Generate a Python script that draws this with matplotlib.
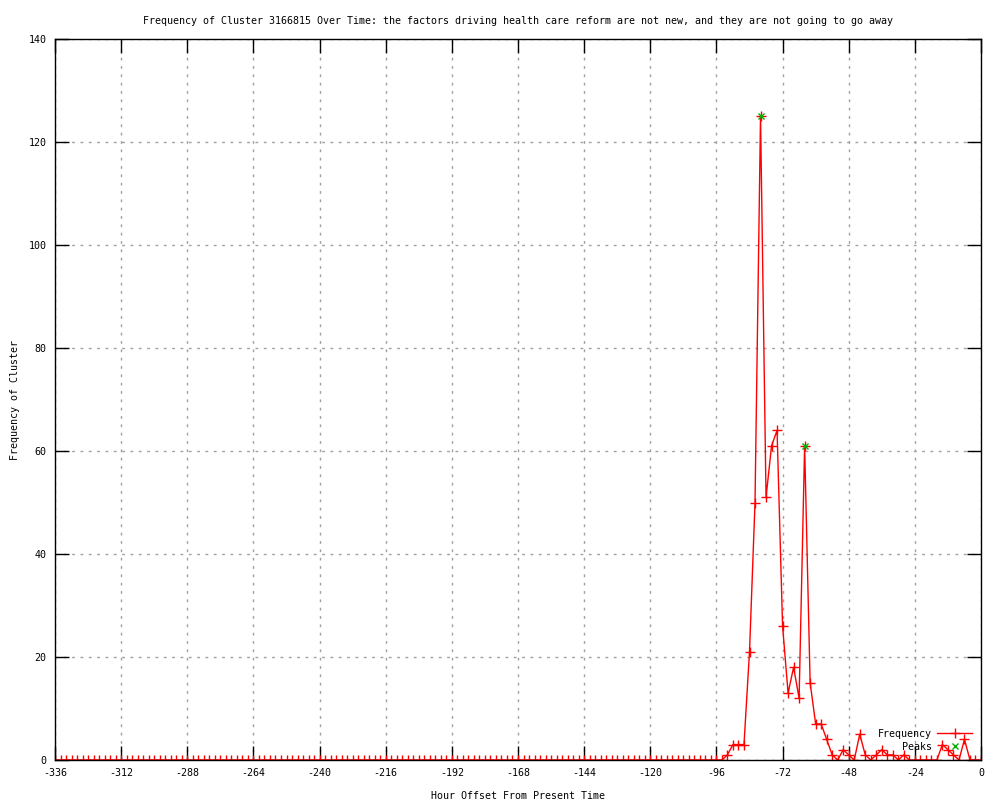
import numpy as np
import matplotlib
matplotlib.use('Agg')
import matplotlib.pyplot as plt

plt.rcParams['font.family'] = ['DejaVu Sans Mono']
plt.rcParams['axes.unicode_minus'] = False

# hours -336 .. 0 in steps of 2; everything before -96 is zero
hours = list(range(-336, 2, 2))
active_hours = [-96, -94, -92, -90, -88, -86, -84, -82, -80, -78, -76, -74, -72, -70,
                -68, -66, -64, -62, -60, -58, -56, -54, -52, -50, -48, -46, -44, -42,
                -40, -38, -36, -34, -32, -30, -28, -26, -24, -22, -20, -18, -16, -14,
                -12, -10, -8, -6, -4, -2, 0]
active_freq = [0, 0, 1, 3, 3, 3, 21, 50, 125, 51, 61, 64, 26, 13,
               18, 12, 61, 15, 7, 7, 4, 1, 0, 2, 1, 0, 5, 1,
               0, 1, 2, 1, 1, 0, 1, 0, 0, 0, 0, 0, 0, 3,
               2, 1, 0, 4, 0, 0, 0]
freq_map = dict(zip(active_hours, active_freq))
freq = [freq_map.get(h, 0) for h in hours]

peak_hours = [-80, -64]
peak_freq = [125, 61]

title = ('Frequency of Cluster 3166815 Over Time: the factors driving health care '
         'reform are not new, and they are not going to go away')

fs = 7.2
fig = plt.figure(figsize=(10, 8), dpi=100)
ax = fig.add_axes([0.055, 0.05, 0.926, 0.90125])

ax.plot(hours, freq, color='red', lw=1, marker='+', ms=7, mew=1, label='Frequency')
ax.plot(peak_hours, peak_freq, color='#00b000', lw=0, marker='x', ms=5, mew=1,
        label='Peaks')

ax.set_xlim(-336, 0)
ax.set_ylim(0, 140)
ax.set_xticks(range(-336, 1, 24))
ax.set_yticks(range(0, 141, 20))
ax.tick_params(direction='in', length=10, width=1, top=True, right=True,
               labelsize=fs, pad=6)
ax.grid(True, color='#a0a0a0', linestyle=(0, (2, 4)), lw=1)
for s in ax.spines.values():
    s.set_linewidth(1)

ax.set_title(title, fontsize=fs, pad=11)
ax.set_xlabel('Hour Offset From Present Time', fontsize=fs, labelpad=9)
ax.set_ylabel('Frequency of Cluster', fontsize=fs, labelpad=6)

ax.legend(loc='lower right', frameon=False, markerfirst=False, fontsize=fs,
          handlelength=3.5, handletextpad=0.5, labelspacing=0.3,
          bbox_to_anchor=(1.0, -0.001))

fig.savefig('out.png', dpi=100)
